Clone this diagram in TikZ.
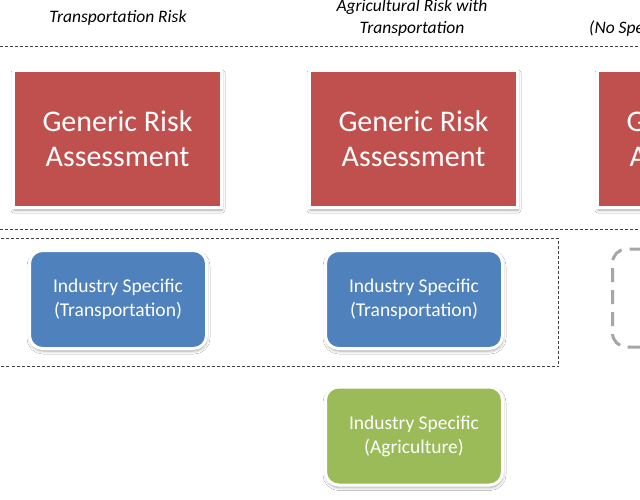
\documentclass[tikz,border=0pt]{standalone}
\usepackage{fontspec}
\setmainfont{Carlito}
\usetikzlibrary{shadows.blur}
\definecolor{ored}{HTML}{C0504D}
\definecolor{oblue}{HTML}{4F81BD}
\definecolor{ogreen}{HTML}{9BBB59}
\definecolor{dline}{HTML}{404040}
\definecolor{gdash}{HTML}{A6A6A6}
\begin{document}
\begin{tikzpicture}[x=1pt,y=-1pt,
  sep/.style={draw=dline, line width=0.8pt, dash pattern=on 3pt off 2pt},
  ttl/.style={font=\itshape\fontsize{17.5}{22}\selectfont, align=center, inner sep=0pt},
  softshadow/.style={blur shadow={shadow xshift=0.5pt, shadow yshift=-2.5pt,
    shadow blur radius=3pt, shadow blur steps=6, shadow opacity=35}},
  genbox/.style={rectangle, fill=ored, draw=white, line width=3pt,
    minimum width=208pt, minimum height=137pt, inner sep=0pt, text=white, align=center,
    font=\fontsize{30}{35}\selectfont, softshadow},
  indbox/.style={rectangle, rounded corners=13pt, draw=white, line width=3pt,
    minimum width=177pt, minimum height=98pt, inner sep=0pt, text=white, align=center,
    font=\fontsize{19.5}{24}\selectfont, softshadow},
  emptybox/.style={rectangle, rounded corners=14pt, draw=gdash, line width=3pt,
    dash pattern=on 14pt off 8pt, minimum width=177pt, minimum height=98pt, inner sep=0pt}
]
\useasboundingbox (0,0) rectangle (640,500);
\clip (0,0) rectangle (640,500);
\fill[white] (0,0) rectangle (640,500);

% titles
\node[ttl] (t1) at (118,18) {Transportation Risk};
\node[ttl] (t2) at (412,18) {Agricultural Risk with\\Transportation};
\node[ttl, anchor=west] (t3) at (589,29) {(No Specific)};

% separators
\draw[sep] (0,46) -- (640,46);
\draw[sep] (0,229) -- (640,229);
\draw[sep] (-5,238) rectangle (558.5,366.5);

% generic boxes
\node[genbox] (r1) at (117.5,139) {Generic Risk\\Assessment};
\node[genbox] (r2) at (413.5,139) {Generic Risk\\Assessment};
\node[genbox] (r3) at (701.5,139) {Generic Risk\\Assessment};

% industry boxes
\node[indbox, fill=oblue] (b1) at (118,299.5) {Industry Specific\\(Transportation)};
\node[indbox, fill=oblue] (b2) at (414,299.5) {Industry Specific\\(Transportation)};
\node[indbox, fill=ogreen] (g2) at (414,436) {Industry Specific\\(Agriculture)};
\node[emptybox] (d3) at (701,298) {};
\end{tikzpicture}
\end{document}
